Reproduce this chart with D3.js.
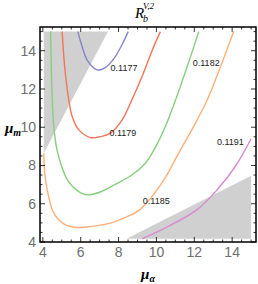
<!DOCTYPE html>
<html>
<head>
<meta charset="utf-8">
<script src="https://cdn.jsdelivr.net/npm/d3@7"></script>
<style>
  body { margin: 0; background: #fff; }
  svg { display: block; }
</style>
</head>
<body>
<div id="chart-area"></div>
<script>
const svgWidth = 258,
      svgHeight = 284;
const frame = {left: 40, right: 256, top: 27, bottom: 242};

// contour levels and the points [mu_alpha, mu_m]
const levels = ["0.1177", "0.1179", "0.1182", "0.1185", "0.1191"];
const colors = ["#8585cc", "#f47556", "#86d07c", "#fdb078", "#d78bce"];

const c1177 = [[5.85,15],[6.05,14.3],[6.35,13.5],[6.87,13.0],[7.3,13.12],[7.8,13.65],[8.2,14.35],[8.51,15]];
const c1179 = [[5.02,15],[5.15,13.2],[5.37,11.43],[5.55,10.56],[5.9,9.86],[6.52,9.46],[7.0,9.5],[7.57,9.69],
               [8.2,10.4],[8.7,11.42],[9.3,12.8],[9.78,14.03],[10.21,15]];
const c1182 = [[4.41,15],[4.45,13],[4.5,11.4],[4.6,9.8],[4.8,8.6],[5.3,7.25],[5.8,6.7],[6.3,6.47],[7.0,6.6],
               [7.9,7.05],[8.7,7.5],[9.4,8.1],[10.0,9.05],[10.5,10.1],[11.0,11.4],[11.6,13.1],[12.24,15]];
const c1185 = [[4.05,8.64],[4.1,7.6],[4.23,6.73],[4.58,5.51],[5.1,4.95],[5.82,4.76],[6.7,4.83],[7.57,4.99],
               [8.4,5.3],[9.16,5.72],[10.3,7.1],[11.27,8.82],[12.0,10.1],[12.68,11.42],[13.4,13.2],[14.08,15]];
const c1191 = [[9.25,4.17],[10.5,4.75],[12.15,5.69],[13.21,6.73],[14.2,8.0],[15,9.4]];
const curves = [c1177, c1179, c1182, c1185, c1191];

// where each contour label sits
const labelPos = [[8.29,13.09],[8.23,9.69],[12.63,13.34],[9.99,6.16],[13.91,9.25]];

// excluded (shaded) regions
const shadeLeft = [[4.05,15],[7.44,15],[4.05,8.64]];
const shadeRight = [[8.42,4.17],[15,7.46],[15,4.17]];

const xTicks = [4, 6, 8, 10, 12, 14];
const yTicks = [4, 6, 8, 10, 12, 14];
const minorTicks = d3.range(4, 15.01, 0.5);

const svg = d3.select("#chart-area")
  .append("svg")
  .attr("width", svgWidth)
  .attr("height", svgHeight);

const x = d3.scaleLinear().domain([3.85, 15.26]).range([frame.left, frame.right]);
const y = d3.scaleLinear().domain([4, 15.24]).range([frame.bottom, frame.top]);

const line = d3.line()
  .x(d => x(d[0]))
  .y(d => y(d[1]))
  .curve(d3.curveCatmullRom.alpha(0.5));

const poly = d3.line().x(d => x(d[0])).y(d => y(d[1]));

// shaded regions
svg.selectAll(".shade")
  .data([shadeLeft, shadeRight])
  .enter().append("path")
  .attr("class", "shade")
  .attr("d", d => poly(d) + "Z")
  .attr("fill", "#d0d0d0");

// contours
svg.selectAll(".contour")
  .data(curves)
  .enter().append("path")
  .attr("class", "contour")
  .attr("d", d => line(d))
  .attr("fill", "none")
  .attr("stroke", (d, i) => colors[i])
  .attr("stroke-width", 1.4);

svg.selectAll(".clabel")
  .data(levels)
  .enter().append("text")
  .attr("class", "clabel")
  .attr("x", (d, i) => x(labelPos[i][0]))
  .attr("y", (d, i) => y(labelPos[i][1]) + 3)
  .attr("text-anchor", "middle")
  .attr("font-family", "Liberation Sans, Arial, sans-serif")
  .attr("font-size", "9px")
  .attr("fill", "#222")
  .text(d => d);

// frame
svg.append("rect")
  .attr("x", frame.left)
  .attr("y", frame.top)
  .attr("width", frame.right - frame.left)
  .attr("height", frame.bottom - frame.top)
  .attr("fill", "none")
  .attr("stroke", "#000")
  .attr("stroke-width", 1.5);

// ticks on all four sides, pointing inward
const tickGroup = svg.append("g").attr("stroke", "#000").attr("stroke-width", 0.8);
minorTicks.forEach(v => {
  const major = xTicks.includes(v);
  const len = major ? 5 : 2.5;
  tickGroup.append("line").attr("x1", x(v)).attr("x2", x(v)).attr("y1", frame.bottom).attr("y2", frame.bottom - len);
  tickGroup.append("line").attr("x1", x(v)).attr("x2", x(v)).attr("y1", frame.top).attr("y2", frame.top + len);
  tickGroup.append("line").attr("y1", y(v)).attr("y2", y(v)).attr("x1", frame.left).attr("x2", frame.left + len);
  tickGroup.append("line").attr("y1", y(v)).attr("y2", y(v)).attr("x1", frame.right).attr("x2", frame.right - len);
});

svg.selectAll(".xtick")
  .data(xTicks)
  .enter().append("text")
  .attr("class", "xtick")
  .attr("x", d => x(d))
  .attr("y", frame.bottom + 15)
  .attr("text-anchor", "middle")
  .attr("font-family", "Liberation Sans, Arial, sans-serif")
  .attr("font-size", "14px")
  .attr("fill", "#6e6e6e")
  .text(d => d);

svg.selectAll(".ytick")
  .data(yTicks)
  .enter().append("text")
  .attr("class", "ytick")
  .attr("x", frame.left - 4)
  .attr("y", d => y(d) + 5)
  .attr("text-anchor", "end")
  .attr("font-family", "Liberation Sans, Arial, sans-serif")
  .attr("font-size", "14px")
  .attr("fill", "#6e6e6e")
  .text(d => d);

// axis labels
const xLabel = svg.append("text")
  .attr("x", 148)
  .attr("y", 279)
  .attr("text-anchor", "middle")
  .attr("font-family", "Liberation Serif, Times New Roman, serif")
  .attr("font-style", "italic")
  .attr("font-weight", "bold")
  .attr("font-size", "15px");
xLabel.append("tspan").text("μ");
xLabel.append("tspan").attr("font-size", "10px").attr("dy", 3).text("α");

const yLabel = svg.append("text")
  .attr("x", 5)
  .attr("y", 133)
  .attr("font-family", "Liberation Serif, Times New Roman, serif")
  .attr("font-style", "italic")
  .attr("font-weight", "bold")
  .attr("font-size", "15px");
yLabel.append("tspan").text("μ");
yLabel.append("tspan").attr("font-size", "10px").attr("dy", 3).text("m");

// title
const title = svg.append("text")
  .attr("x", 135)
  .attr("y", 18)
  .attr("font-family", "Liberation Serif, Times New Roman, serif")
  .attr("font-style", "italic")
  .attr("font-size", "15px");
title.append("tspan").text("R");
title.append("tspan").attr("font-size", "10px").attr("x", 143).attr("y", 22).text("b");
title.append("tspan").attr("font-size", "9px").attr("x", 143).attr("y", 9).text("V,2");
</script>
</body>
</html>
